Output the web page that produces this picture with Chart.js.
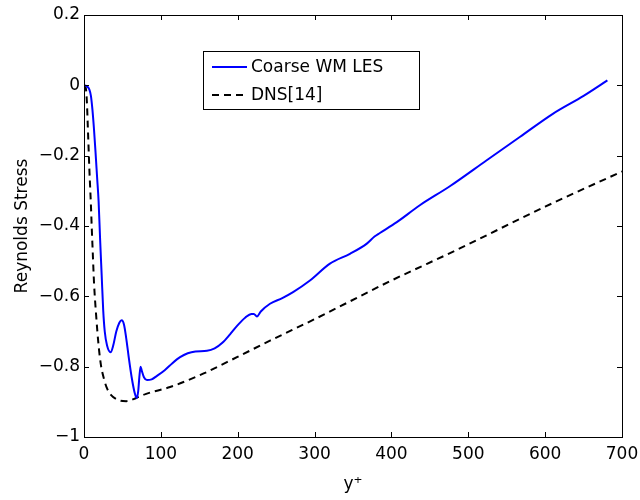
<!DOCTYPE html>
<html>
<head>
<meta charset="utf-8">
<script src="https://cdn.jsdelivr.net/npm/chart.js@4"></script>
<style>
  body { margin: 0; background: #fff; }
</style>
</head>
<body>
<canvas id="stressChart" width="640" height="500"></canvas>
<script>
// Coarse WM LES (blue solid)
const lesX = [0, 4, 7, 9, 11, 13, 15, 17, 19, 21, 23, 25, 27, 30, 34.6, 38, 42, 46, 49, 52, 55, 58, 62, 66, 68.5, 70.5, 72, 73.6, 75, 78, 82, 88, 95, 105, 115, 125, 135, 145, 160, 170, 180, 190, 200, 210, 218, 221, 225, 230, 242, 258, 272, 294, 320, 346, 368, 378, 385, 407, 437, 476, 524, 567, 610, 650, 681];
const lesY = [0, -0.003, -0.012, -0.03, -0.07, -0.125, -0.19, -0.26, -0.33, -0.44, -0.54, -0.64, -0.70, -0.74, -0.759, -0.74, -0.70, -0.675, -0.668, -0.68, -0.72, -0.77, -0.83, -0.875, -0.889, -0.87, -0.83, -0.80, -0.81, -0.83, -0.838, -0.836, -0.826, -0.81, -0.79, -0.773, -0.762, -0.757, -0.755, -0.748, -0.732, -0.708, -0.682, -0.66, -0.65, -0.65, -0.657, -0.643, -0.621, -0.605, -0.588, -0.555, -0.507, -0.479, -0.45, -0.43, -0.42, -0.389, -0.341, -0.287, -0.213, -0.147, -0.081, -0.03, 0.014];

// DNS[14] (black dashed)
const dnsX = [0, 2, 3, 4, 5, 6, 7, 8, 9, 10, 11.3, 13, 16, 19, 22, 26, 30, 35, 45, 55, 68, 80, 112, 155, 199, 242, 300, 400, 484, 600, 700];
const dnsY = [0, -0.005, -0.02, -0.06, -0.12, -0.18, -0.24, -0.29, -0.34, -0.40, -0.47, -0.56, -0.66, -0.74, -0.795, -0.835, -0.862, -0.88, -0.895, -0.898, -0.889, -0.878, -0.858, -0.82, -0.773, -0.726, -0.665, -0.555, -0.469, -0.345, -0.245];

const seriesNames = ["Coarse WM LES", "DNS[14]"];

Chart.defaults.font.family = "'DejaVu Sans', sans-serif";
Chart.defaults.font.size = 17;
Chart.defaults.color = "#000";

const toPts = (xs, ys) => xs.map((x, i) => ({ x: x, y: ys[i] }));

// box round the axes with inward ticks, matlab style
const framePlugin = {
  id: "frame",
  afterDraw(chart) {
    const { ctx, chartArea: a, scales } = chart;
    const len = 5;
    ctx.save();
    ctx.strokeStyle = "#000";
    ctx.lineWidth = 1;
    ctx.strokeRect(Math.round(a.left) + 0.5, Math.round(a.top) + 0.5,
                   Math.round(a.right - a.left), Math.round(a.bottom - a.top));
    ctx.beginPath();
    scales.x.ticks.forEach(t => {
      const px = Math.round(scales.x.getPixelForValue(t.value)) + 0.5;
      ctx.moveTo(px, a.bottom); ctx.lineTo(px, a.bottom - len);
      ctx.moveTo(px, a.top); ctx.lineTo(px, a.top + len);
    });
    scales.y.ticks.forEach(t => {
      const py = Math.round(scales.y.getPixelForValue(t.value)) + 0.5;
      ctx.moveTo(a.left, py); ctx.lineTo(a.left + len, py);
      ctx.moveTo(a.right, py); ctx.lineTo(a.right - len, py);
    });
    ctx.stroke();
    ctx.restore();
  }
};

// legend box inside the axes
const legendBox = {
  id: "legendBox",
  afterDraw(chart) {
    const ctx = chart.ctx;
    const bx = 203, by = 51, bw = 216, bh = 58;
    ctx.save();
    ctx.fillStyle = "#fff";
    ctx.fillRect(bx, by, bw, bh);
    ctx.strokeStyle = "#000";
    ctx.lineWidth = 1;
    ctx.strokeRect(bx + 0.5, by + 0.5, bw, bh);
    chart.data.datasets.forEach((ds, i) => {
      const y = 67 + i * 28;
      ctx.strokeStyle = ds.borderColor;
      ctx.lineWidth = ds.borderWidth;
      ctx.setLineDash(ds.borderDash || []);
      ctx.beginPath();
      ctx.moveTo(212, y);
      ctx.lineTo(247, y);
      ctx.stroke();
      ctx.setLineDash([]);
      ctx.fillStyle = "#000";
      ctx.font = "17px 'DejaVu Sans'";
      ctx.textBaseline = "middle";
      ctx.fillText(ds.label, 251, y + 1);
    });
    ctx.restore();
  }
};

new Chart("stressChart", {
  type: "scatter",
  data: {
    datasets: [
      {
        label: seriesNames[0],
        data: toPts(lesX, lesY),
        showLine: true,
        borderColor: "#0000ff",
        borderWidth: 2,
        pointRadius: 0,
        cubicInterpolationMode: "monotone"
      },
      {
        label: seriesNames[1],
        data: toPts(dnsX, dnsY),
        showLine: true,
        borderColor: "#000",
        borderWidth: 2,
        borderDash: [7, 5],
        pointRadius: 0,
        cubicInterpolationMode: "monotone"
      }
    ]
  },
  options: {
    responsive: false,
    animation: false,
    layout: { padding: { left: 0, top: 15, right: 18, bottom: 0 } },
    plugins: {
      legend: { display: false },
      tooltip: { enabled: false }
    },
    scales: {
      x: {
        type: "linear",
        min: 0,
        max: 700,
        grid: { display: false, drawTicks: false },
        border: { display: false },
        ticks: { stepSize: 100, padding: 7, maxRotation: 0 },
        title: { display: true, text: "y\u207A", padding: { top: 0, bottom: 5 } },
        afterFit(scale) {
          scale.height = 63;
          scale.paddingLeft = 0;
          scale.paddingRight = 0;
        }
      },
      y: {
        min: -1,
        max: 0.2,
        grid: { display: false, drawTicks: false },
        border: { display: false },
        ticks: {
          stepSize: 0.2,
          padding: 4,
          callback: v => {
            const r = Math.round(v * 10) / 10;
            return r < 0 ? "\u2212" + String(-r) : String(r);
          }
        },
        title: { display: true, text: "Reynolds Stress", padding: { top: 12, bottom: 0 } },
        afterFit(scale) {
          scale.width = 84;
          scale.paddingTop = 0;
          scale.paddingBottom = 0;
        }
      }
    }
  },
  plugins: [framePlugin, legendBox]
});
</script>
</body>
</html>
